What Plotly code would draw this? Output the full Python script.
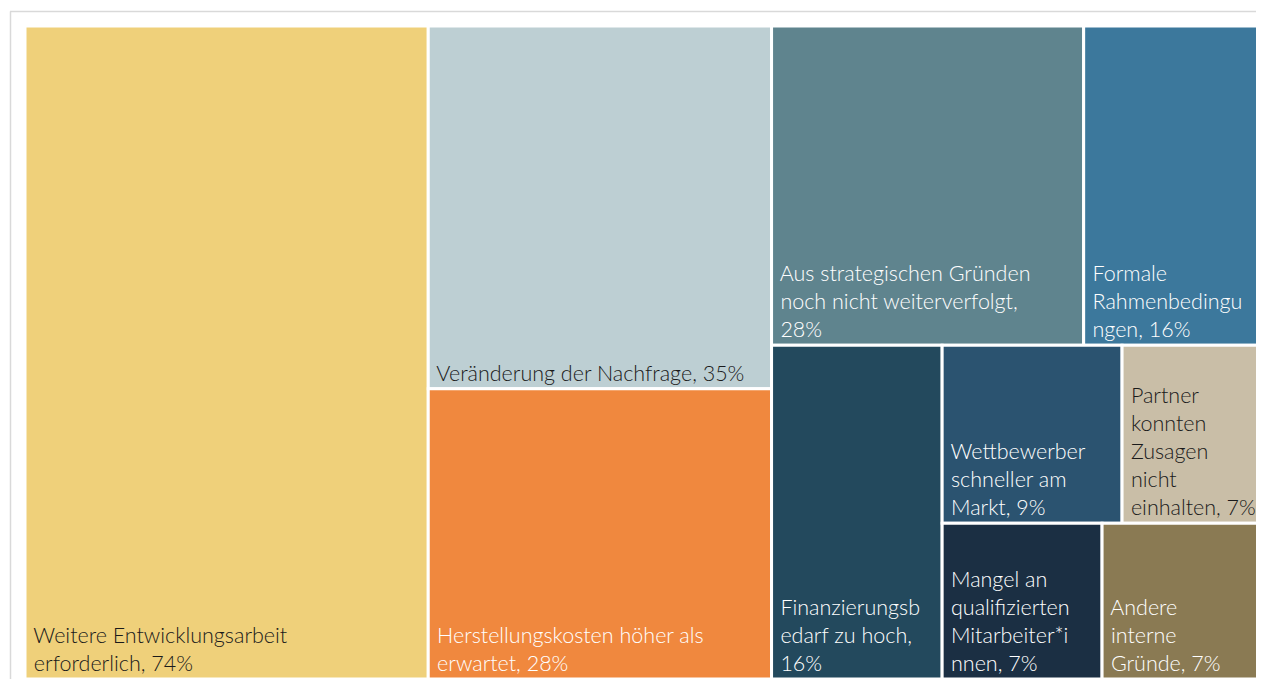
import plotly.graph_objects as go

# ---- data ----
categories = [
    "Weitere Entwicklungsarbeit erforderlich",
    "Veränderung der Nachfrage",
    "Herstellungskosten höher als erwartet",
    "Aus strategischen Gründen noch nicht weiterverfolgt",
    "Formale Rahmenbedingungen",
    "Finanzierungsbedarf zu hoch",
    "Wettbewerber schneller am Markt",
    "Partner konnten Zusagen nicht einhalten",
    "Mangel an qualifizierten Mitarbeiter*innen",
    "Andere interne Gründe",
]
values = [74, 35, 28, 28, 16, 16, 9, 7, 7, 7]
label_lines = [
    ["Weitere Entwicklungsarbeit", "erforderlich, {v}%"],
    ["Veränderung der Nachfrage, {v}%"],
    ["Herstellungskosten höher als", "erwartet, {v}%"],
    ["Aus strategischen Gründen", "noch nicht weiterverfolgt,", "{v}%"],
    ["Formale", "Rahmenbedingu", "ngen, {v}%"],
    ["Finanzierungsb", "edarf zu hoch,", "{v}%"],
    ["Wettbewerber", "schneller am", "Markt, {v}%"],
    ["Partner", "konnten", "Zusagen", "nicht", "einhalten, {v}%"],
    ["Mangel an", "qualifizierten", "Mitarbeiter*i", "nnen, {v}%"],
    ["Andere", "interne", "Gründe, {v}%"],
]

# ---- styles ----
tile_colors = ["#EFD07A", "#BDCFD3", "#F0883E", "#5F848E", "#3C789C",
               "#23495D", "#2B5370", "#C9BEA7", "#1B2F43", "#8A7A53"]
text_colors = ["#1a1a1a", "#1a1a1a", "#ffffff", "#ffffff", "#ffffff",
               "#ffffff", "#ffffff", "#1a1a1a", "#ffffff", "#ffffff"]

INDENT = "\u00a0"
texts = ["<br>".join(INDENT + ln.format(v=v) for ln in lines)
         for lines, v in zip(label_lines, values)]

FS = 21.5

fig = go.Figure(go.Treemap(
    labels=categories,
    parents=[""] * len(categories),
    values=values,
    text=texts,
    textinfo="text",
    textposition="bottom left",
    sort=True,
    tiling=dict(packing="squarify", squarifyratio=1, pad=0),
    marker=dict(colors=tile_colors, line=dict(color="white", width=3),
                pad=dict(t=0, l=0, r=0, b=0)),
    textfont=dict(family="Lato", size=FS, color=text_colors, weight=300),
    pathbar=dict(visible=False),
    hoverinfo="skip",
))

W, H = 1254, 671
ml, mr, mt, mb = 17, 0, 18, 0
pw, ph = W - ml - mr, H - mt - mb

fig.update_layout(
    width=W, height=H,
    margin=dict(l=ml, r=mr, t=mt, b=mb, pad=0),
    paper_bgcolor="white",
    uniformtext=dict(minsize=FS, mode="show"),
    shapes=[
        dict(type="line", xref="paper", yref="paper",
             x0=(2 - ml) / pw, x1=(W + 5 - ml) / pw,
             y0=1 + (mt - 3.5) / ph, y1=1 + (mt - 3.5) / ph,
             line=dict(color="#D9D9D9", width=1.5)),
        dict(type="line", xref="paper", yref="paper",
             x0=(2.5 - ml) / pw, x1=(2.5 - ml) / pw,
             y0=1 + (mt - 3.5) / ph, y1=-(mb + 10) / ph,
             line=dict(color="#D9D9D9", width=1.5)),
    ],
)

fig.write_html("out.html")
